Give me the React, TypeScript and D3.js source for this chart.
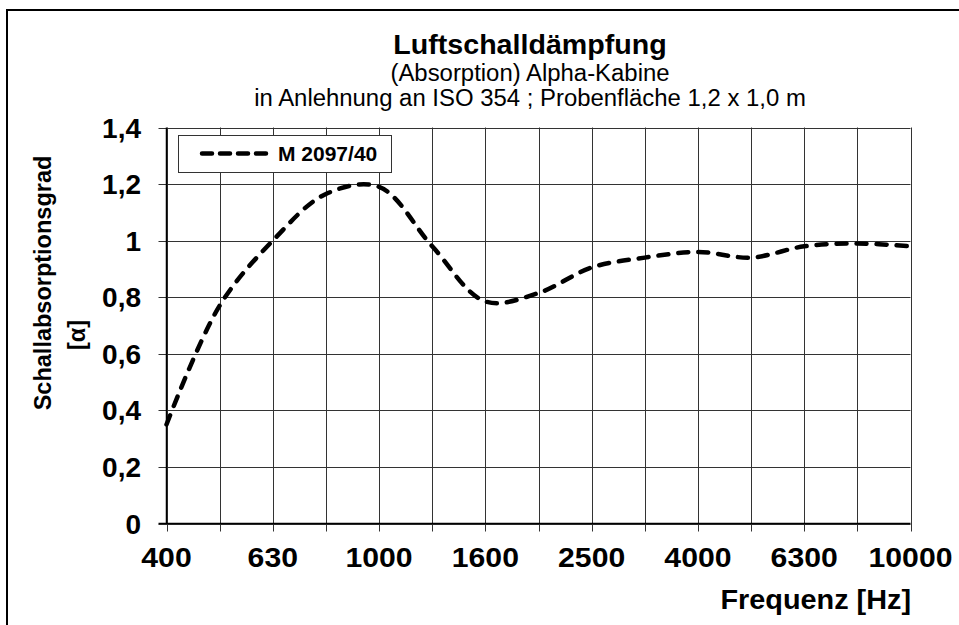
import React, { useEffect, useRef } from 'react';
import * as d3 from 'd3';

// third-octave band centre frequencies (Hz)
const frequencies = ['400', '500', '630', '800', '1000', '1250', '1600', '2000', '2500', '3150', '4000', '5000', '6300', '8000', '10000'];
// absorption coefficient, sample M 2097/40
const alpha = [0.35, 0.77, 1.0, 1.165, 1.19, 0.98, 0.785, 0.815, 0.905, 0.94, 0.96, 0.94, 0.98, 0.99, 0.98];
const labelledFreqs = ['400', '630', '1000', '1600', '2500', '4000', '6300', '10000'];
const yTicks = [0, 0.2, 0.4, 0.6, 0.8, 1, 1.2, 1.4];

const titleLines = ['Luftschalldämpfung', '(Absorption) Alpha-Kabine', 'in Anlehnung an ISO 354 ; Probenfläche 1,2 x 1,0 m'];
const seriesName = 'M 2097/40';

const FONT = '"Liberation Sans", Arial, Helvetica, sans-serif';

const App = () => {
    const svgRef = useRef<SVGSVGElement>(null);
    const width = 959;
    const height = 625;

    useEffect(() => {
        const svg = d3.select(svgRef.current);
        svg.selectAll('*').remove();

        const left = 166.5, right = 910.5, top = 127.5, bottom = 523.5;

        const x = d3.scalePoint<string>().domain(frequencies).range([left, right]);
        const y = d3.scaleLinear().domain([0, 1.4]).range([bottom, top]);

        svg.append('rect')
            .attr('width', width).attr('height', height)
            .attr('fill', '#fff');

        // outer frame
        svg.append('rect')
            .attr('x', 7).attr('y', 10)
            .attr('width', 980).attr('height', 660)
            .attr('fill', 'none')
            .attr('stroke', '#000')
            .attr('stroke-width', 2);

        // titles (slightly widened to match the original's proportions)
        const tx = 530;
        svg.append('text')
            .attr('transform', `translate(${tx},54) scale(1.06,1)`)
            .attr('text-anchor', 'middle')
            .style('font-family', FONT).style('font-weight', 'bold').style('font-size', '27px')
            .text(titleLines[0]);
        svg.append('text')
            .attr('transform', `translate(${tx},81) scale(1.04,1)`)
            .attr('text-anchor', 'middle')
            .style('font-family', FONT).style('font-size', '23px')
            .text(titleLines[1]);
        svg.append('text')
            .attr('transform', `translate(${tx},106) scale(1.04,1)`)
            .attr('text-anchor', 'middle')
            .style('font-family', FONT).style('font-size', '23px')
            .text(titleLines[2]);

        // grid
        const grid = svg.append('g').attr('stroke', '#333').attr('stroke-width', 1);
        grid.selectAll('line.h')
            .data(yTicks)
            .enter().append('line')
            .attr('class', 'h')
            .attr('x1', left - 8).attr('x2', right)
            .attr('y1', d => Math.round(y(d)) + 0.5).attr('y2', d => Math.round(y(d)) + 0.5);
        grid.selectAll('line.v')
            .data(frequencies)
            .enter().append('line')
            .attr('class', 'v')
            .attr('x1', d => Math.round(x(d)!) + 0.5).attr('x2', d => Math.round(x(d)!) + 0.5)
            .attr('y1', top).attr('y2', bottom + 8);

        // axes lines
        svg.append('line')
            .attr('x1', left).attr('x2', left).attr('y1', top).attr('y2', bottom)
            .attr('stroke', '#000').attr('stroke-width', 1.5);
        svg.append('line')
            .attr('x1', left - 8).attr('x2', right).attr('y1', bottom).attr('y2', bottom)
            .attr('stroke', '#000').attr('stroke-width', 1.5);

        // y tick labels
        svg.selectAll('text.ytick')
            .data(yTicks)
            .enter().append('text')
            .attr('class', 'ytick')
            .attr('x', 141)
            .attr('y', d => y(d) + 10)
            .attr('text-anchor', 'end')
            .style('font-family', FONT).style('font-weight', 'bold').style('font-size', '28px')
            .text(d => d3.format('.1~f')(d).replace('.', ','));

        // x tick labels
        svg.selectAll('text.xtick')
            .data(labelledFreqs)
            .enter().append('text')
            .attr('class', 'xtick')
            .attr('transform', d => `translate(${x(d)},567) scale(1.06,1)`)
            .attr('text-anchor', 'middle')
            .style('font-family', FONT).style('font-weight', 'bold').style('font-size', '28.5px')
            .text(d => d);

        // axis titles
        svg.append('text')
            .attr('transform', 'translate(911,609) scale(1.03,1)')
            .attr('text-anchor', 'end')
            .style('font-family', FONT).style('font-weight', 'bold').style('font-size', '28px')
            .text('Frequenz [Hz]');

        svg.append('text')
            .attr('transform', 'translate(51,283) rotate(-90)')
            .attr('text-anchor', 'middle')
            .style('font-family', FONT).style('font-weight', 'bold').style('font-size', '23.5px')
            .text('Schallabsorptionsgrad');
        svg.append('text')
            .attr('transform', 'translate(85,335) rotate(-90)')
            .attr('text-anchor', 'middle')
            .style('font-family', FONT).style('font-weight', 'bold').style('font-size', '23.5px')
            .text('[α]');

        // series line
        const line = d3.line<number>()
            .x((d, i) => x(frequencies[i])!)
            .y(d => y(d))
            .curve(d3.curveCatmullRom.alpha(0.5));

        svg.append('path')
            .datum(alpha)
            .attr('d', line)
            .attr('fill', 'none')
            .attr('stroke', '#000')
            .attr('stroke-width', 4.5)
            .attr('stroke-linecap', 'round')
            .attr('stroke-dasharray', '10,10');

        // legend
        const lg = svg.append('g');
        lg.append('rect')
            .attr('x', 178.5).attr('y', 135.5)
            .attr('width', 213).attr('height', 37)
            .attr('fill', '#fff')
            .attr('stroke', '#333').attr('stroke-width', 1);
        lg.append('line')
            .attr('x1', 202).attr('x2', 272).attr('y1', 153.5).attr('y2', 153.5)
            .attr('stroke', '#000').attr('stroke-width', 4.5)
            .attr('stroke-linecap', 'round')
            .attr('stroke-dasharray', '10,8');
        lg.append('text')
            .attr('x', 278).attr('y', 161)
            .style('font-family', FONT).style('font-weight', 'bold').style('font-size', '21px')
            .text(seriesName);
    }, []);

    return (
        <svg ref={svgRef} width={width} height={height}
            style={{ position: 'absolute', left: 0, top: 0, display: 'block' }} />
    );
};

export default App;
